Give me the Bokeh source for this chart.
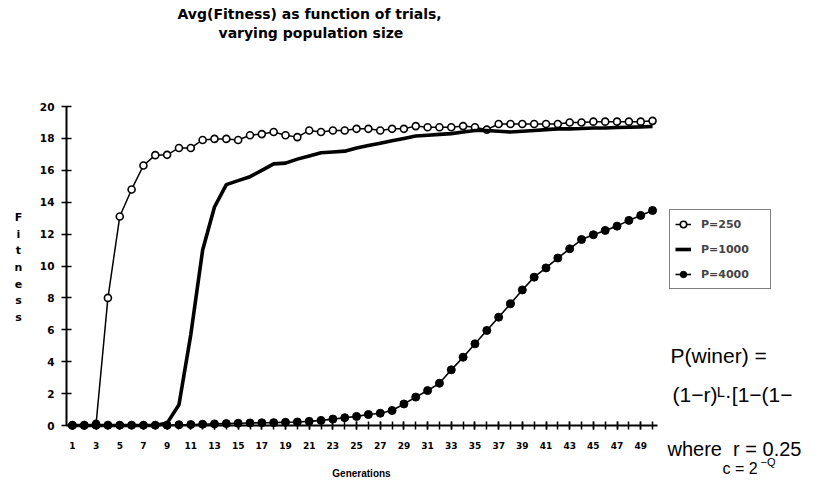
from bokeh.plotting import figure
from bokeh.models import Label, Legend, LegendItem, FixedTicker, Range1d
from bokeh.embed import file_html
from bokeh.resources import INLINE

# ---------------- data ----------------
generations = list(range(1, 51))
x_tick_labels = list(range(1, 50, 2))
y_ticks = [0, 2, 4, 6, 8, 10, 12, 14, 16, 18, 20]

p250 = [0.0, 0.0, 0.1, 8.0, 13.1, 14.8, 16.3, 16.95, 16.97, 17.4,
        17.4, 17.9, 17.97, 17.97, 17.9, 18.2, 18.27, 18.4, 18.2, 18.08,
        18.5, 18.4, 18.5, 18.5, 18.6, 18.6, 18.5, 18.6, 18.6, 18.77,
        18.7, 18.7, 18.7, 18.77, 18.7, 18.55, 18.9, 18.9, 18.9, 18.9,
        18.9, 18.9, 19.0, 19.0, 19.05, 19.05, 19.05, 19.05, 19.05, 19.1]

p1000 = [0.0, 0.0, 0.0, 0.0, 0.0, 0.0, 0.0, 0.0, 0.15, 1.3,
         5.7, 11.0, 13.7, 15.1, 15.35, 15.6, 16.0, 16.4, 16.45, 16.7,
         16.9, 17.1, 17.15, 17.2, 17.4, 17.55, 17.7, 17.85, 18.0, 18.15,
         18.2, 18.25, 18.3, 18.4, 18.5, 18.5, 18.45, 18.4, 18.45, 18.5,
         18.55, 18.6, 18.6, 18.62, 18.65, 18.65, 18.68, 18.7, 18.72, 18.75]

p4000 = [0.02, 0.02, 0.02, 0.02, 0.02, 0.02, 0.02, 0.02, 0.02, 0.05,
         0.06, 0.08, 0.1, 0.12, 0.14, 0.16, 0.17, 0.18, 0.2, 0.22,
         0.26, 0.32, 0.4, 0.49, 0.57, 0.69, 0.77, 0.94, 1.35, 1.78,
         2.19, 2.65, 3.49, 4.28, 5.12, 5.96, 6.79, 7.63, 8.5, 9.3,
         9.88, 10.5, 11.08, 11.66, 11.96, 12.23, 12.5, 12.86, 13.17, 13.48]

series_names = ["P=250", "P=1000", "P=4000"]

NB = "\u00a0"
title_lines = ["Avg(Fitness) as function of trials,", "varying population size"]
x_title = "Generations"
y_title = "F\ni\nt\nn\ne\ns\ns"
notes = ["P(winer) =", "(1\u2212r)\u1d38\u00b7[1\u2212(1\u2212",
         "where" + NB * 2 + "r = 0.25", "c = 2", "\u2212Q"]

# ---------------- layout (pixels) ----------------
W, H = 818, 479
X0_PX, X_STEP = 71.9, 11.84      # pixel of generation 1, pixels per generation
Y0_PX, Y_STEP = 425.0, 15.95     # pixel of fitness 0, pixels per fitness unit
x_lo = 1 - X0_PX / X_STEP
x_hi = 1 + (W - X0_PX) / X_STEP
y_hi = Y0_PX / Y_STEP
y_lo = -(H - Y0_PX) / Y_STEP

p = figure(width=W, height=H, output_backend="svg", toolbar_location=None,
           x_range=Range1d(x_lo, x_hi), y_range=Range1d(y_lo, y_hi),
           min_border=0)
p.outline_line_color = None
p.grid.visible = False
p.background_fill_color = "white"
p.border_fill_color = "white"

BOLD = "DejaVu Sans"

# x axis
xa = p.xaxis[0]
xa.fixed_location = 0
xa.bounds = (0.5, 50.45)
xa.ticker = FixedTicker(ticks=x_tick_labels, minor_ticks=generations)
xa.axis_line_width = 2
xa.major_tick_in = 4
xa.major_tick_out = 4
xa.minor_tick_in = 4
xa.minor_tick_out = 4
xa.major_tick_line_width = 1.5
xa.minor_tick_line_width = 1.5
xa.major_label_standoff = 12
xa.major_label_text_font = BOLD
xa.major_label_text_font_style = "bold"
xa.major_label_text_font_size = "9px"
xa.major_label_text_color = "black"

# y axis
ya = p.yaxis[0]
ya.fixed_location = 0.5
ya.bounds = (0, 20)
ya.ticker = FixedTicker(ticks=y_ticks, minor_ticks=[])
ya.axis_line_width = 2
ya.major_tick_in = 5
ya.major_tick_out = 5
ya.major_tick_line_width = 1.5
ya.minor_tick_in = 0
ya.minor_tick_out = 0
ya.major_label_standoff = 7
ya.major_label_text_font = BOLD
ya.major_label_text_font_style = "bold"
ya.major_label_text_font_size = "10.5px"
ya.major_label_text_color = "black"

# ---------------- series ----------------
l250 = p.line(generations, p250, line_color="black", line_width=1.5)
s250 = p.scatter(generations, p250, size=7, fill_color="white",
                 line_color="black", line_width=1.6)
l1000 = p.line(generations, p1000, line_color="black", line_width=3.6)
l4000 = p.line(generations, p4000, line_color="black", line_width=1.6)
s4000 = p.scatter(generations, p4000, size=8, fill_color="black",
                  line_color="black")

legend = Legend(items=[
    LegendItem(label=series_names[0], renderers=[l250, s250]),
    LegendItem(label=series_names[1], renderers=[l1000]),
    LegendItem(label=series_names[2], renderers=[l4000, s4000]),
], location=(669, H - 289))
legend.border_line_color = "black"
legend.border_line_width = 1.5
legend.background_fill_alpha = 1
legend.padding = 5
legend.spacing = 7
legend.margin = 0
legend.label_height = 18
legend.glyph_height = 18
legend.glyph_width = 16
legend.label_width = 64
legend.label_standoff = 10
legend.label_text_font = BOLD
legend.label_text_font_style = "bold"
legend.label_text_font_size = "11px"
legend.label_text_baseline = "middle"
p.add_layout(legend, "center")

# ---------------- texts (x, y in pixels from the top-left) ----------------
def lab(text, x, y, size, font=BOLD, style="bold", align="left", line_height=1.2):
    p.add_layout(Label(x=x, y=H - y, x_units="screen", y_units="screen", text=text,
                       text_font=font, text_font_style=style,
                       text_font_size=size, text_align=align,
                       text_baseline="middle", text_color="black",
                       text_line_height=line_height))

lab(title_lines[0], 177, 13, "14px")
lab(title_lines[1], 218, 32, "14px")
lab(x_title, 361, 473, "10px", font="Liberation Sans", align="center")
lab(y_title, 18, 267, "11px", align="center", line_height=1.27)

HAND = "Liberation Sans"
lab(notes[0], 670, 355, "21px", font=HAND, style="normal")
lab(notes[1], 672, 394, "21px", font=HAND, style="normal")
lab(notes[2], 667, 448, "20px", font=HAND, style="normal")
lab(notes[3], 722, 468, "16px", font=HAND, style="normal")
lab(notes[4], 760, 461, "11px", font=HAND, style="normal")

open("out.html", "w").write(file_html(p, INLINE))
